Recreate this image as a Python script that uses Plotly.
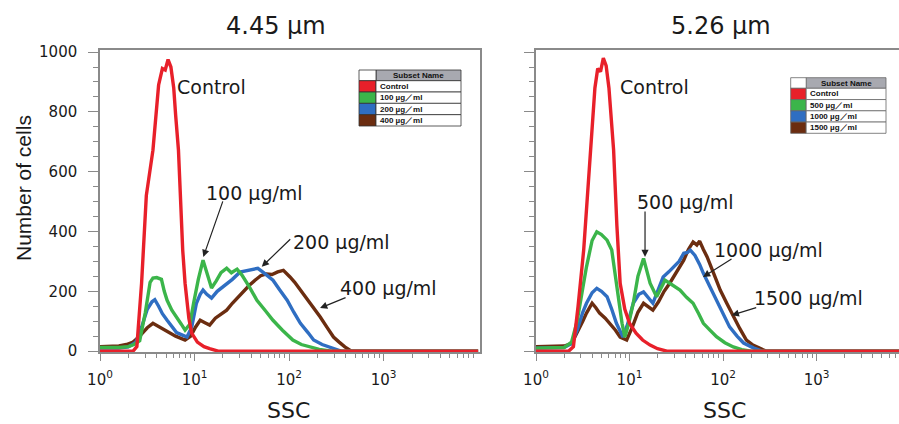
import numpy as np
import plotly.graph_objects as go

W, H = 899, 424

# ---------------- data: SSC histograms (log10 SSC channel, number of cells) ----------------
colors = {"ctrl": "#e8202a", "c1": "#3bb54a", "c2": "#2f6ec2", "c3": "#6b2d10"}

# 4.45 um particles
a_ctrl_lg = [0, 0.35, 0.39, 0.44, 0.49, 0.56, 0.62, 0.66, 0.69, 0.72, 0.75, 0.78, 0.80, 0.83, 0.875, 0.90, 0.94, 0.97, 1.03, 1.10, 1.16, 1.25, 4.0]
a_ctrl_n = [0, 0, 15, 227, 520, 672, 890, 945, 940, 975, 950, 880, 790, 672, 338, 227, 110, 60, 30, 15, 8, 0, 0]

a_100_lg = [0, 0.2, 0.3, 0.36, 0.42, 0.48, 0.53, 0.56, 0.60, 0.65, 0.68, 0.71, 0.76, 0.81, 0.86, 0.90, 0.95, 0.99, 1.04, 1.09, 1.13, 1.18, 1.23, 1.28, 1.34, 1.39, 1.45, 1.50, 1.58, 1.66, 1.75, 1.83, 1.93, 2.04, 2.13, 2.22, 2.32, 2.45, 4.0]
a_100_n = [12, 12, 15, 22, 35, 130, 230, 244, 246, 240, 200, 170, 137, 115, 90, 70, 90, 160, 240, 304, 260, 211, 235, 262, 277, 262, 274, 255, 215, 170, 135, 103, 70, 37, 22, 14, 6, 0, 0]

a_200_lg = [0, 0.2, 0.3, 0.38, 0.44, 0.50, 0.55, 0.58, 0.62, 0.66, 0.71, 0.76, 0.81, 0.86, 0.92, 0.97, 1.02, 1.06, 1.09, 1.13, 1.18, 1.24, 1.30, 1.34, 1.40, 1.48, 1.55, 1.62, 1.67, 1.72, 1.78, 1.83, 1.90, 1.98, 2.05, 2.12, 2.20, 2.26, 2.35, 2.43, 2.55, 4.0]
a_200_n = [10, 10, 14, 30, 80, 140, 165, 172, 150, 125, 103, 80, 62, 55, 47, 80, 160, 190, 204, 190, 177, 200, 215, 227, 240, 264, 268, 272, 277, 265, 250, 237, 205, 170, 130, 93, 62, 37, 22, 14, 0, 0]

a_400_lg = [0, 0.1, 0.2, 0.28, 0.35, 0.42, 0.50, 0.56, 0.62, 0.71, 0.80, 0.90, 0.96, 1.01, 1.06, 1.11, 1.16, 1.22, 1.28, 1.34, 1.40, 1.46, 1.52, 1.58, 1.64, 1.70, 1.76, 1.82, 1.88, 1.94, 2.01, 2.06, 2.12, 2.20, 2.27, 2.33, 2.40, 2.47, 2.53, 2.59, 2.66, 4.0]
a_400_n = [15, 15, 17, 22, 30, 50, 78, 93, 82, 65, 50, 37, 50, 80, 103, 95, 87, 110, 125, 137, 160, 180, 204, 220, 237, 252, 258, 256, 265, 270, 248, 230, 204, 170, 140, 114, 80, 47, 30, 14, 0, 0]

# 5.26 um particles
b_ctrl_lg = [0, 0.35, 0.40, 0.45, 0.51, 0.58, 0.63, 0.66, 0.69, 0.72, 0.75, 0.78, 0.83, 0.865, 0.90, 0.95, 1.00, 1.07, 1.14, 1.22, 1.30, 1.40, 3.9]
b_ctrl_n = [0, 0, 15, 150, 338, 672, 880, 945, 935, 980, 955, 880, 672, 420, 227, 140, 93, 60, 37, 20, 8, 0, 0]

b_500_lg = [0, 0.2, 0.3, 0.38, 0.44, 0.50, 0.54, 0.60, 0.65, 0.70, 0.76, 0.81, 0.86, 0.92, 0.95, 0.99, 1.04, 1.09, 1.15, 1.19, 1.22, 1.29, 1.34, 1.38, 1.43, 1.48, 1.54, 1.61, 1.68, 1.74, 1.79, 1.86, 1.93, 2.02, 2.11, 2.20, 2.30, 3.9]
b_500_n = [10, 10, 12, 30, 100, 210, 282, 370, 399, 390, 371, 338, 227, 93, 47, 90, 160, 250, 310, 260, 227, 182, 215, 237, 227, 215, 204, 180, 160, 125, 93, 70, 48, 28, 14, 5, 0, 0]

b_1000_lg = [0, 0.2, 0.3, 0.38, 0.44, 0.50, 0.54, 0.60, 0.65, 0.70, 0.76, 0.81, 0.86, 0.93, 0.98, 1.04, 1.10, 1.15, 1.20, 1.25, 1.30, 1.36, 1.42, 1.47, 1.53, 1.58, 1.62, 1.65, 1.70, 1.75, 1.79, 1.86, 1.93, 2.00, 2.07, 2.15, 2.22, 2.33, 2.42, 3.9]
b_1000_n = [10, 10, 12, 25, 70, 130, 160, 195, 210, 200, 182, 140, 93, 47, 90, 160, 190, 198, 180, 160, 200, 248, 265, 282, 300, 327, 330, 338, 320, 290, 260, 215, 170, 125, 81, 50, 27, 10, 0, 0]

b_1500_lg = [0, 0.2, 0.3, 0.38, 0.44, 0.50, 0.54, 0.60, 0.64, 0.68, 0.74, 0.79, 0.85, 0.90, 0.97, 1.03, 1.09, 1.15, 1.20, 1.25, 1.31, 1.37, 1.43, 1.50, 1.58, 1.63, 1.68, 1.72, 1.75, 1.79, 1.83, 1.90, 1.97, 2.04, 2.11, 2.18, 2.25, 2.32, 2.39, 2.46, 3.9]
b_1500_n = [15, 15, 17, 25, 60, 100, 127, 160, 145, 127, 110, 93, 70, 47, 37, 80, 130, 160, 150, 137, 165, 200, 227, 265, 304, 340, 365, 355, 368, 340, 315, 260, 204, 160, 115, 75, 37, 20, 10, 0, 0]

panel_titles = ["4.45 \u03bcm", "5.26 \u03bcm"]
a_names = ["Control", "100 \u00b5g\uff0fml", "200 \u00b5g\uff0fml", "400 \u00b5g\uff0fml"]
b_names = ["Control", "500 \u00b5g\uff0fml", "1000 \u00b5g\uff0fml", "1500 \u00b5g\uff0fml"]
a_labels = ["Control", "100 \u03bcg/ml", "200 \u03bcg/ml", "400 \u03bcg/ml"]
b_labels = ["Control", "500 \u03bcg/ml", "1000 \u03bcg/ml", "1500 \u03bcg/ml"]

x_tickvals = [1, 10, 100, 1000]
x_ticktext = ["10<sup>0</sup>", "10<sup>1</sup>", "10<sup>2</sup>", "10<sup>3</sup>"]
x_minor = [m * 10 ** d for d in range(4) for m in range(2, 10)]
y_tickvals = [0, 200, 400, 600, 800, 1000]


def px(x):
    return x / W


def py(y):
    return 1 - y / H


fig = go.Figure()

panel_a = [(a_400_lg, a_400_n, "c3"), (a_200_lg, a_200_n, "c2"), (a_100_lg, a_100_n, "c1"), (a_ctrl_lg, a_ctrl_n, "ctrl")]
panel_b = [(b_1500_lg, b_1500_n, "c3"), (b_1000_lg, b_1000_n, "c2"), (b_500_lg, b_500_n, "c1"), (b_ctrl_lg, b_ctrl_n, "ctrl")]

for lg, n, key in panel_a:
    fig.add_trace(go.Scatter(x=10 ** np.array(lg), y=n, mode="lines",
                             line=dict(color=colors[key], width=3.4),
                             xaxis="x", yaxis="y", showlegend=False))
for lg, n, key in panel_b:
    fig.add_trace(go.Scatter(x=10 ** np.array(lg), y=n, mode="lines",
                             line=dict(color=colors[key], width=3.4),
                             xaxis="x2", yaxis="y2", showlegend=False))

axis_col = "#8a8a8a"
tick_font = dict(family="DejaVu Sans", size=15, color="#1a1a1a")

xcommon = dict(type="log", showline=True, linecolor=axis_col, linewidth=1.5, mirror=True,
               showgrid=False, zeroline=False, ticks="outside", ticklen=7, tickcolor=axis_col,
               tickvals=x_tickvals, ticktext=x_ticktext, tickfont=tick_font,
               ticklabelstandoff=6, automargin=False,
               minor=dict(tickvals=x_minor, ticks="outside", ticklen=4, tickcolor=axis_col))
ycommon = dict(range=[-3, 1007], showline=True, linecolor=axis_col, linewidth=1.5,
               showgrid=False, zeroline=False, ticks="outside", ticklen=10, tickcolor=axis_col,
               tickvals=y_tickvals, tickfont=tick_font, ticklabelstandoff=8, automargin=False,
               minor=dict(dtick=50, ticks="outside", ticklen=5, tickcolor=axis_col))

fig.update_layout(
    width=W, height=H, margin=dict(l=0, r=0, t=0, b=0, autoexpand=False),
    paper_bgcolor="white", plot_bgcolor="white", showlegend=False,
    xaxis=dict(domain=[px(100), px(480)], range=[0, 4.02], anchor="y", **xcommon),
    yaxis=dict(domain=[py(352), py(50)], anchor="x", mirror=True, **ycommon),
    xaxis2=dict(domain=[px(536), 1.0], range=[0, 3.882], anchor="y2", **xcommon),
    yaxis2=dict(domain=[py(352), py(50)], anchor="x2", showticklabels=False, **ycommon),
)

text_font = dict(family="DejaVu Sans", size=19, color="#1a1a1a")
ann = []


def paper_text(text, x, y, font, **kw):
    d = dict(text=text, x=px(x), y=py(y), xref="paper", yref="paper", showarrow=False,
             xanchor="center", yanchor="middle", font=font)
    d.update(kw)
    ann.append(d)


# panel titles, axis titles
paper_text(panel_titles[0], 276, 26, dict(family="DejaVu Sans", size=24, color="#1a1a1a"))
paper_text(panel_titles[1], 721, 26, dict(family="DejaVu Sans", size=24, color="#1a1a1a"))
paper_text("Number of cells", 23, 188, dict(family="Liberation Sans", size=21, color="#1a1a1a"),
           textangle=-90)
for cx in (288, 724):
    paper_text("SSC", cx, 410, dict(family="DejaVu Sans", size=22, color="#1a1a1a"))

# curve labels (x in log10 units on the log axes)
label_pos_a = [(1.181, 884), (1.635, 528), (2.55, 365), (3.053, 211)]
label_pos_b = [(1.262, 884), (1.604, 499), (2.487, 338), (2.914, 177)]
for t, (lx, ly) in zip(a_labels, label_pos_a):
    ann.append(dict(text=t, x=lx, y=ly, xref="x", yref="y", showarrow=False, font=text_font,
                    xanchor="center", yanchor="middle"))
for t, (lx, ly) in zip(b_labels, label_pos_b):
    ann.append(dict(text=t, x=lx, y=ly, xref="x2", yref="y2", showarrow=False, font=text_font,
                    xanchor="center", yanchor="middle"))

# pointer arrows: head in data coords, tail as pixel offset
arrows_a = [(1.093, 315, 20, -57), (1.711, 282, 30, -29), (2.328, 144, 27, -11)]
arrows_b = [(1.166, 315, 0, -47), (1.786, 248, 30, -19), (2.093, 120, 26, -8)]
for axs, arr in (("", arrows_a), ("2", arrows_b)):
    for hx, hy, dx, dy in arr:
        ann.append(dict(text="", x=hx, y=hy, xref="x" + axs, yref="y" + axs, ax=dx, ay=dy,
                        showarrow=True, arrowhead=2, arrowsize=1.2, arrowwidth=1.2,
                        arrowcolor="#222222", standoff=0, startstandoff=0))

shapes = []


def subset_table(x0, x1, y0, y1, swatch_w, header_h, names, border):
    """Small 'Subset Name' key table drawn in pixel space."""
    row_h = (y1 - y0 - header_h) / len(names)
    xs = x0 + swatch_w
    small = dict(family="Liberation Sans", size=8, color="#111")
    shapes.append(dict(type="rect", xref="paper", yref="paper", x0=px(xs), x1=px(x1),
                       y0=py(y0 + header_h), y1=py(y0), fillcolor="#a8a9b0",
                       line=dict(color=border, width=0.8)))
    shapes.append(dict(type="rect", xref="paper", yref="paper", x0=px(x0), x1=px(xs),
                       y0=py(y0 + header_h), y1=py(y0), fillcolor="white",
                       line=dict(color=border, width=0.8)))
    paper_text("<b>Subset Name</b>", (xs + x1) / 2, y0 + header_h / 2, small)
    keys = ["ctrl", "c1", "c2", "c3"]
    for i, name in enumerate(names):
        ry0 = y0 + header_h + i * row_h
        ry1 = ry0 + row_h
        shapes.append(dict(type="rect", xref="paper", yref="paper", x0=px(x0), x1=px(xs),
                           y0=py(ry1), y1=py(ry0), fillcolor=colors[keys[i]],
                           line=dict(color=border, width=0.8)))
        shapes.append(dict(type="rect", xref="paper", yref="paper", x0=px(xs), x1=px(x1),
                           y0=py(ry1), y1=py(ry0), fillcolor="white",
                           line=dict(color=border, width=0.8)))
        paper_text("<b>" + name + "</b>", xs + 1.5, (ry0 + ry1) / 2, small, xanchor="left")


subset_table(359, 461, 70, 126, 17, 10.7, a_names, "#333333")
subset_table(790.7, 886, 77.7, 133.3, 15.5, 10.6, b_names, "#666666")

fig.update_layout(annotations=ann, shapes=shapes)
fig.write_html("out.html")
